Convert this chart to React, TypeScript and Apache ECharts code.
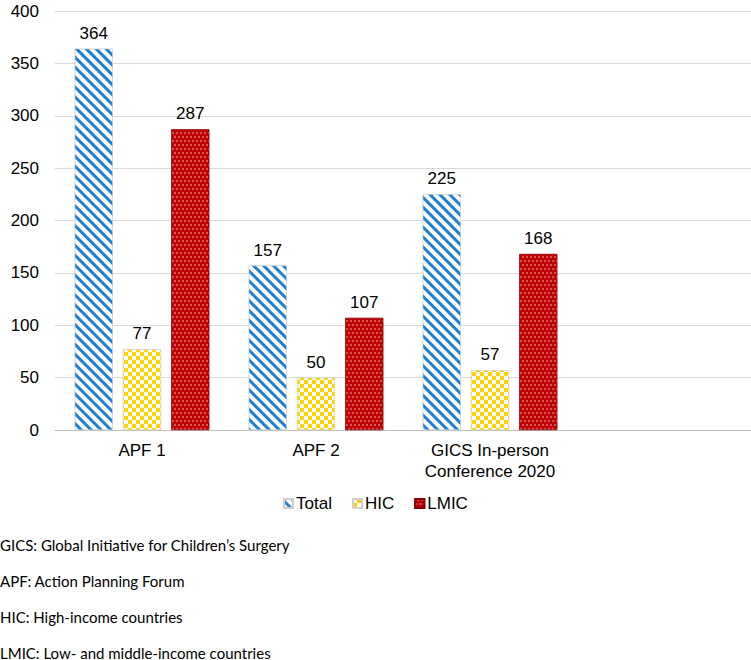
import React, { useEffect, useRef } from "react";
import * as echarts from "echarts";

const categories = ["APF 1", "APF 2", "GICS In-person\nConference 2020", ""];
const totalValues: (number | null)[] = [364, 157, 225, null];
const hicValues: (number | null)[] = [77, 50, 57, null];
const lmicValues: (number | null)[] = [287, 107, 168, null];
const yTicks = { min: 0, max: 400, interval: 50 };
const footnotes = [
  "GICS: Global Initiative for Children\u2019s Surgery",
  "APF: Action Planning Forum",
  "HIC: High-income countries",
  "LMIC: Low- and middle-income countries",
];

export default function App() {
  const ref = useRef<HTMLDivElement>(null);
  useEffect(() => {
    document.body.style.margin = "0";
    const chart = echarts.init(ref.current!, null, { renderer: "svg" });
    const font = "'Liberation Sans', Arial, sans-serif";
    const label = {
      show: true,
      position: "top" as const,
      distance: 7,
      color: "#000",
      fontSize: 17,
      fontFamily: font,
    };
    chart.setOption({
      animation: false,
      grid: { left: 55, right: 0, top: 11, height: 419 },
      legend: {
        bottom: 143,
        left: "center",
        itemWidth: 9,
        itemHeight: 9,
        itemGap: 20,
        icon: "rect",
        textStyle: { fontSize: 17, fontFamily: font, color: "#000", padding: [0, 0, 0, -2] },
        data: ["Total", "HIC", "LMIC"],
      },
      xAxis: {
        type: "category",
        data: categories,
        axisTick: { show: false },
        axisLine: { lineStyle: { color: "#bfbfbf", width: 1 } },
        axisLabel: {
          color: "#000",
          fontSize: 17,
          fontFamily: font,
          lineHeight: 21,
          margin: 10,
          interval: 0,
        },
      },
      yAxis: {
        type: "value",
        min: yTicks.min,
        max: yTicks.max,
        interval: yTicks.interval,
        axisLine: { show: false },
        axisTick: { show: false },
        splitLine: { lineStyle: { color: "#d9d9d9", width: 1 } },
        axisLabel: { color: "#000", fontSize: 17, fontFamily: font, margin: 16 },
      },
      series: [
        {
          name: "Total",
          type: "bar",
          data: totalValues,
          barWidth: 38,
          barGap: "27%",
          label,
          itemStyle: {
            color: "#ffffff",
            borderColor: "#d0d0d0",
            borderWidth: 0.5,
            decal: {
              symbol: "rect",
              color: "#1f7fd0",
              dashArrayX: [1, 0],
              dashArrayY: [2.2, 3.2],
              rotation: Math.PI / 4,
            },
          },
        },
        {
          name: "HIC",
          type: "bar",
          data: hicValues,
          barWidth: 38,
          label,
          itemStyle: {
            color: "#ffffff",
            borderColor: "#d0d0d0",
            borderWidth: 0.5,
            decal: {
              symbol: "rect",
              color: "#ffd200",
              dashArrayX: [
                [4, 4],
                [0, 4, 4, 0],
              ],
              dashArrayY: [4, 0],
              rotation: 0,
            },
          },
        },
        {
          name: "LMIC",
          type: "bar",
          data: lmicValues,
          barWidth: 38,
          label,
          itemStyle: {
            color: "#c00000",
            borderColor: "#8a0000",
            borderWidth: 0.5,
            decal: {
              symbol: "circle",
              symbolSize: 0.7,
              color: "rgba(255,255,255,0.85)",
              dashArrayX: [
                [2, 2],
                [0, 2, 2, 0],
              ],
              dashArrayY: [2, 2],
              rotation: 0,
            },
          },
        },
      ],
      graphic: footnotes.map((t, i) => ({
        type: "text",
        left: 0,
        top: 537 + i * 36,
        style: {
          text: t,
          fontSize: 15,
          fontFamily: "Lato, 'Open Sans', sans-serif",
          fill: "#000",
        },
      })),
    });
    return () => chart.dispose();
  }, []);
  return <div ref={ref} style={{ width: 751, height: 660 }} />;
}
